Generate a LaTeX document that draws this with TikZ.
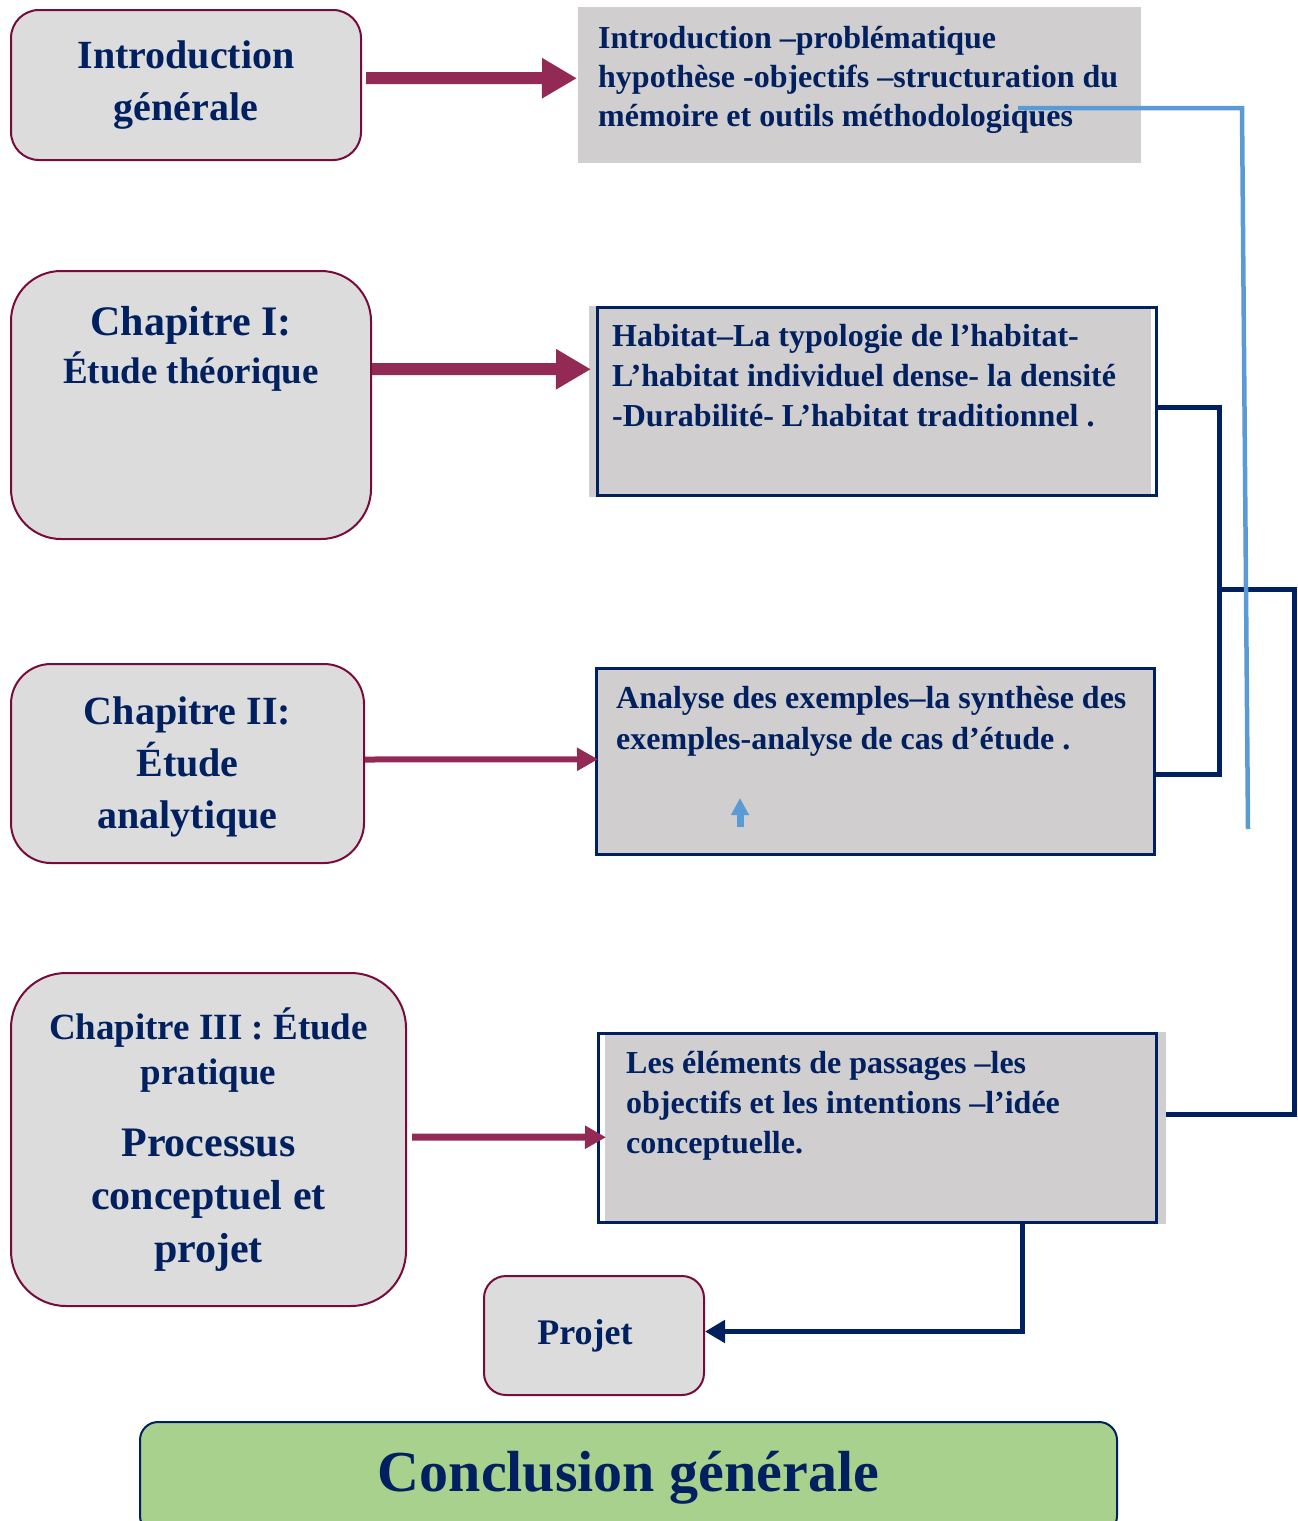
\documentclass[tikz,border=0pt]{standalone}
\usepackage{fontspec}
\setmainfont{Liberation Serif}
\usetikzlibrary{arrows.meta, positioning, backgrounds}

\definecolor{navy}{RGB}{0,32,96}
\definecolor{wine}{RGB}{120,10,60}
\definecolor{plum}{RGB}{146,42,85}
\definecolor{lightgrey}{RGB}{220,220,220}
\definecolor{boxgrey}{RGB}{208,206,206}
\definecolor{skyline}{RGB}{91,155,213}
\definecolor{leaf}{RGB}{169,209,142}

\begin{document}
\begin{tikzpicture}[x = 1pt, y = -1pt,
	chapter/.style = {draw = wine, line width = 2pt, fill = lightgrey, rounded corners = #1, align = center, text = navy, inner sep = 0pt, anchor = north west},
	summary/.style = {draw = navy, line width = 2.5pt, inner sep = 0pt, anchor = north west},
	words/.style = {align = left, text = navy, inner sep = 0pt, font = \fontsize{32}{40}\selectfont\bfseries},
	fatarrow/.style = {plum, line width = 12pt, -{Triangle[length = 35pt, width = 38pt]}},
	slimarrow/.style = {plum, line width = 6pt, -{Triangle[length = 21pt, width = 22pt]}},
	navyline/.style = {navy, line width = 5pt},
	blueline/.style = {skyline, line width = 4.5pt}]

	\useasboundingbox (0, 0) rectangle (1298, 1521);

	% Chapters on the left

	\node [chapter = 28pt, minimum width = 350pt, minimum height = 150pt, font = \fontsize{40}{52}\selectfont\bfseries] (intro) at (10, 9) {Introduction\\générale};

	\node [chapter = 50pt, minimum width = 360pt, minimum height = 268pt] (chapone) at (10, 270) {};
	\node [below = 36pt of chapone.north, align = center, text = navy, inner sep = 0pt, font = \fontsize{42}{48}\selectfont\bfseries] (chaponetxt) {Chapitre I:\\{\fontsize{37}{48}\selectfont Étude théorique}};

	\node [chapter = 40pt, minimum width = 353pt, minimum height = 199pt, font = \fontsize{40}{52}\selectfont\bfseries] (chaptwo) at (10, 663) {\\[-18pt]Chapitre II:\\Étude\\analytique};

	\node [chapter = 55pt, minimum width = 395pt, minimum height = 333pt, font = \fontsize{42}{53}\selectfont\bfseries] (chapthree) at (10, 972) {{\fontsize{37}{45}\selectfont Chapitre III : Étude}\\[-8pt]{\fontsize{37}{45}\selectfont pratique}\\[19pt]Processus\\conceptuel et\\projet};

	\node [chapter = 22pt, minimum width = 220pt, minimum height = 119pt, font = \fontsize{36}{44}\selectfont\bfseries] (projet) at (483, 1275) {Projet\kern18pt};

	\node [chapter = 18pt, draw = navy, fill = leaf, minimum width = 977pt, minimum height = 112pt, font = \fontsize{58}{70}\selectfont\bfseries] (conclusion) at (139, 1421) {Conclusion générale};

	% Summaries on the right

	\node [summary, draw = none, fill = boxgrey, minimum width = 563pt, minimum height = 156pt] (introsum) at (577, 6) {};
	\node [words, font = \fontsize{32}{39}\selectfont\bfseries, below right = 20pt and 21pt of introsum.north west] (introsumtxt) {Introduction –problématique\\hypothèse -objectifs –structuration du\\mémoire et outils méthodologiques};

	\node [summary, minimum width = 559pt, minimum height = 188pt] (habitat) at (596, 306) {};
	\node [words, below right = 18pt and 16pt of habitat.north west] (habitattxt) {Habitat–La typologie de l’habitat-\\L’habitat individuel dense- la densité\\-Durabilité- L’habitat traditionnel .};

	\node [summary, fill = boxgrey, minimum width = 558pt, minimum height = 186pt] (analyse) at (595, 667) {};
	\node [words, font = \fontsize{32}{41}\selectfont\bfseries, below right = 19pt and 21pt of analyse.north west] (analysetxt) {Analyse des exemples–la synthèse des\\exemples-analyse de cas d’étude .};

	\node [summary, minimum width = 558pt, minimum height = 189pt] (elements) at (597, 1032) {};
	\node [words, below right = 19pt and 29pt of elements.north west] (elementstxt) {Les éléments de passages –les\\objectifs et les intentions –l’idée\\conceptuelle.};

	\begin{scope}[on background layer]
		\fill [boxgrey] ([xshift = -7pt]habitat.north west) rectangle ([xshift = -7pt]habitat.south east);
		\fill [boxgrey] ([xshift = 8pt]elements.north west) rectangle ([xshift = 8pt]elements.south east);
	\end{scope}

	% Arrows

	\draw [fatarrow] ([xshift = 4pt, yshift = 7pt]intro.east) -- ([yshift = 7pt]introsum.west);
	\draw [fatarrow] ([yshift = 36pt]chapone.east) -- ([xshift = -5pt, yshift = 32pt]habitat.west);
	\draw [slimarrow] ([yshift = 4pt]chaptwo.east) -- ([xshift = 3pt, yshift = 2pt]analyse.west);
	\draw [slimarrow, line width = 7pt] ([xshift = 5pt, yshift = 2.5pt]chapthree.east) -- ([xshift = 9pt, yshift = -9.5pt]elements.west);

	% Links

	\coordinate (split) at (1219, 589);

	\draw [navyline] ([yshift = -6pt]habitat.east) -| ([xshift = 64pt, yshift = -13pt]analyse.east) -- ([yshift = -13pt]analyse.east);
	\draw [navyline] (split) -| ([xshift = 137pt, yshift = 13.5pt]elements.east) -- ([xshift = 8pt, yshift = 13.5pt]elements.east);
	\draw [navyline, -{Triangle[length = 20pt, width = 22pt]}] ([xshift = 145pt]elements.south) |- ([yshift = 4pt]projet.east);

	\coordinate (bluestart) at (1018, 108);
	\coordinate (blueend) at (1248, 829);

	\draw [blueline] (bluestart) -- (1242, 108) -- (blueend);
	\draw [skyline, line width = 7pt, -{Triangle[length = 17pt, width = 17pt]}] (740, 827) -- (740, 798);

\end{tikzpicture}
\end{document}
